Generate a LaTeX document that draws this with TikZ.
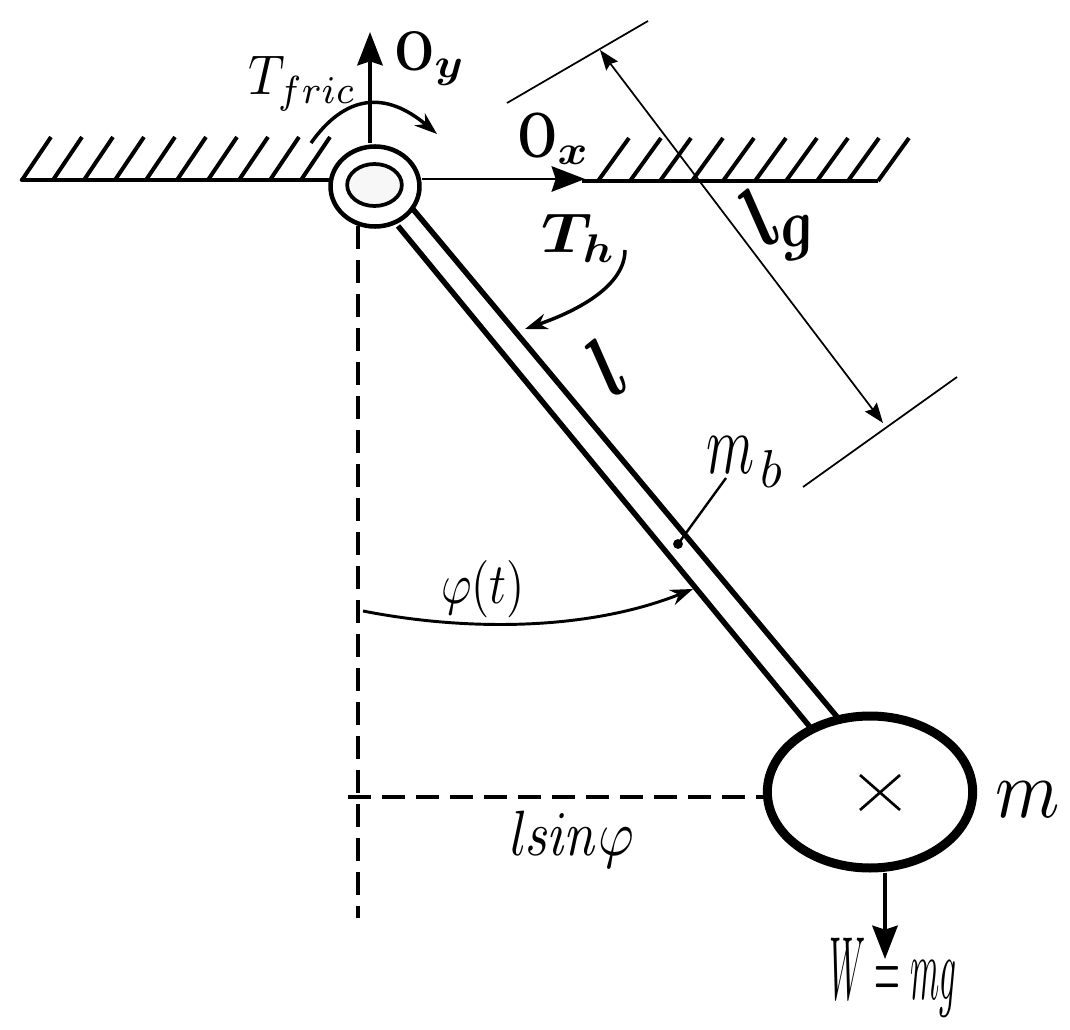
\documentclass[tikz,border=0pt]{standalone}
\usepackage{amsmath,graphicx}
\usetikzlibrary{arrows.meta,shapes.geometric}
\newcommand{\sx}[3]{\scalebox{#1}[#2]{$#3$}}
\tikzset{
 heavy/.style={line width=3.4pt},
 thinline/.style={line width=1.3pt},
 mid/.style={line width=2.6pt},
 bigtip/.style={-{Stealth[length=25pt,width=19pt,inset=3pt]}},
 midtip/.style={-{Stealth[length=17pt,width=12pt]}},
 dimtip/.style={{Stealth[length=15pt,width=11pt,inset=2pt]}-{Stealth[length=15pt,width=11pt,inset=2pt]}},
 longdash/.style={line width=3pt,dash pattern=on 17pt off 8.5pt},
 lab/.style={inner sep=0pt},
}
\begin{document}
\begin{tikzpicture}[x=0.75pt,y=-0.75pt]
\useasboundingbox (0,0) rectangle (1070,1030);
\coordinate (gl1) at (22,180); \coordinate (gl2) at (335,180);
\coordinate (gr1) at (582,181); \coordinate (gr2) at (878,181);
\coordinate (pivot) at (375,186.5);
\coordinate (pinc) at (374.5,185);
% ground
\draw[heavy,line cap=round] (gl1) -- (gl2);
\draw[heavy] (gr1) -- (gr2);
\foreach \x in {22,53,84,115,146,177,208,239,270,301}{
  \draw[line width=3pt] (\x,180) -- ++(29,-43);}
\foreach \x in {598,630,660,692,723,755,786,817,848,878}{
  \draw[line width=3pt] (\x,181) -- ++(31,-43);}
% rod
\coordinate (r1a) at (398,226); \coordinate (r1b) at (810,727);
\coordinate (r2a) at (412,208); \coordinate (r2b) at (838,718);
\draw[line width=4.1pt] (r1a) -- (r1b);
\draw[line width=4.1pt] (r2a) -- (r2b);
% pivot
\node[ellipse,draw,line width=3.4pt,fill=white,minimum width=66.7pt,minimum height=60pt,inner sep=0pt] (hub) at (pivot) {};
\node[ellipse,draw,line width=2.8pt,fill=black!3,minimum width=41pt,minimum height=31.5pt,inner sep=0pt] (pin) at (pinc) {};
% axes
\coordinate (oyb) at (370,143);
\coordinate (oyt) at (370,32);
\draw[line width=3pt,bigtip] (oyb) -- (oyt);
\coordinate (oxt) at (585,179);
\draw[line width=2.2pt,bigtip] (hub.east |- oxt) -- (oxt);
% dashed
\coordinate (dv1) at (358,226); \coordinate (dv2) at (358,918);
\draw[longdash] (dv1) -- (dv2);
\coordinate (dh1) at (348,797);
% mass
\node[ellipse,draw,line width=6.75pt,minimum width=154pt,minimum height=114pt,inner sep=0pt,fill=white] (mass) at (870,792) {};
\draw[longdash] (dh1) -- (mass.west |- dh1);
\draw[line width=2pt] (860,775) -- (900,810);
\draw[line width=2pt] (900,775) -- (860,810);
% weight
\coordinate (wt) at (885,959);
\draw[line width=3pt,bigtip] (mass.south -| wt) -- (wt);
% friction torque
\coordinate (f1) at (311,143); \coordinate (f2) at (437,134);
\draw[mid,midtip] (f1) .. controls (345,95) and (385,90) .. (f2);
% Th
\coordinate (h1) at (625,250); \coordinate (h2) at (525,329);
\draw[mid,midtip] (h1) .. controls (625,285) and (580,310) .. (h2);
% phi arc
\coordinate (p1) at (363,611); \coordinate (p2) at (693,589);
\draw[line width=2.2pt,midtip] (p1) .. controls (470,632) and (590,630) .. (p2);
% lg dim
\coordinate (d1) at (507,103); \coordinate (d2) at (648,21);
\coordinate (d3) at (803,487); \coordinate (d4) at (957,377);
\coordinate (e1) at (600,50); \coordinate (e2) at (883,423);
\draw[thinline] (d1) -- (d2);
\draw[thinline] (d3) -- (d4);
\draw[thinline,dimtip] (e1) -- (e2);
% mb
\coordinate (mbd) at (678,544); \coordinate (mbe) at (726,478);
\fill (mbd) circle (3.7pt);
\draw[line width=1.8pt] (mbd) -- (mbe);
% labels
\node[lab,anchor=base west] (tf) at (248,95) {\sx{3.8}{4.2}{T_{fric}}};
\node[lab,anchor=base west] (oy) at (394,71) {\sx{3.5}{4.2}{\mathbf{O}}\raisebox{-5pt}{\sx{3.4}{3.1}{\boldsymbol{y}}}};
\node[lab,anchor=base west] (ox) at (517,158) {\sx{3.5}{4.8}{\mathbf{O}}\raisebox{-5pt}{\sx{3.4}{3.1}{\boldsymbol{x}}}};
\node[lab,anchor=base west] (th) at (541,253) {\sx{4.8}{4.2}{\boldsymbol{T}}\hspace{-7pt}\raisebox{-7.5pt}{\sx{3.4}{3}{\boldsymbol{h}}}};
\node[lab,anchor=base west] (lg) at (731,250) {\rotatebox{36}{\sx{5.6}{6.5}{\boldsymbol{l}}}\hspace{-8pt}\rotatebox{12}{\sx{4.4}{5}{\boldsymbol{g}}}};
\node[lab,anchor=center,rotate=36] (ll) at (607,367) {\sx{5.6}{6.5}{\boldsymbol{l}}};
\node[lab,anchor=base west] (mb) at (706,473) {\sx{4.1}{6.4}{m}\hspace{5pt}\raisebox{-10.5pt}{\sx{3.8}{4}{b}}};
\node[lab,anchor=base west] (phi) at (441,603) {\sx{3.5}{4.3}{\varphi(t)}};
\node[lab,anchor=base west] (ls) at (510,855) {\sx{4.1}{4.8}{l\mkern-1mu\mathit{sin}\varphi}};
\node[lab,anchor=base west] (m) at (995,817) {\sx{5.5}{6.2}{m}};
\node[lab,anchor=center] (w) at (893,978) {\resizebox{95pt}{46pt}{$W=mg$}};
\end{tikzpicture}
\end{document}
